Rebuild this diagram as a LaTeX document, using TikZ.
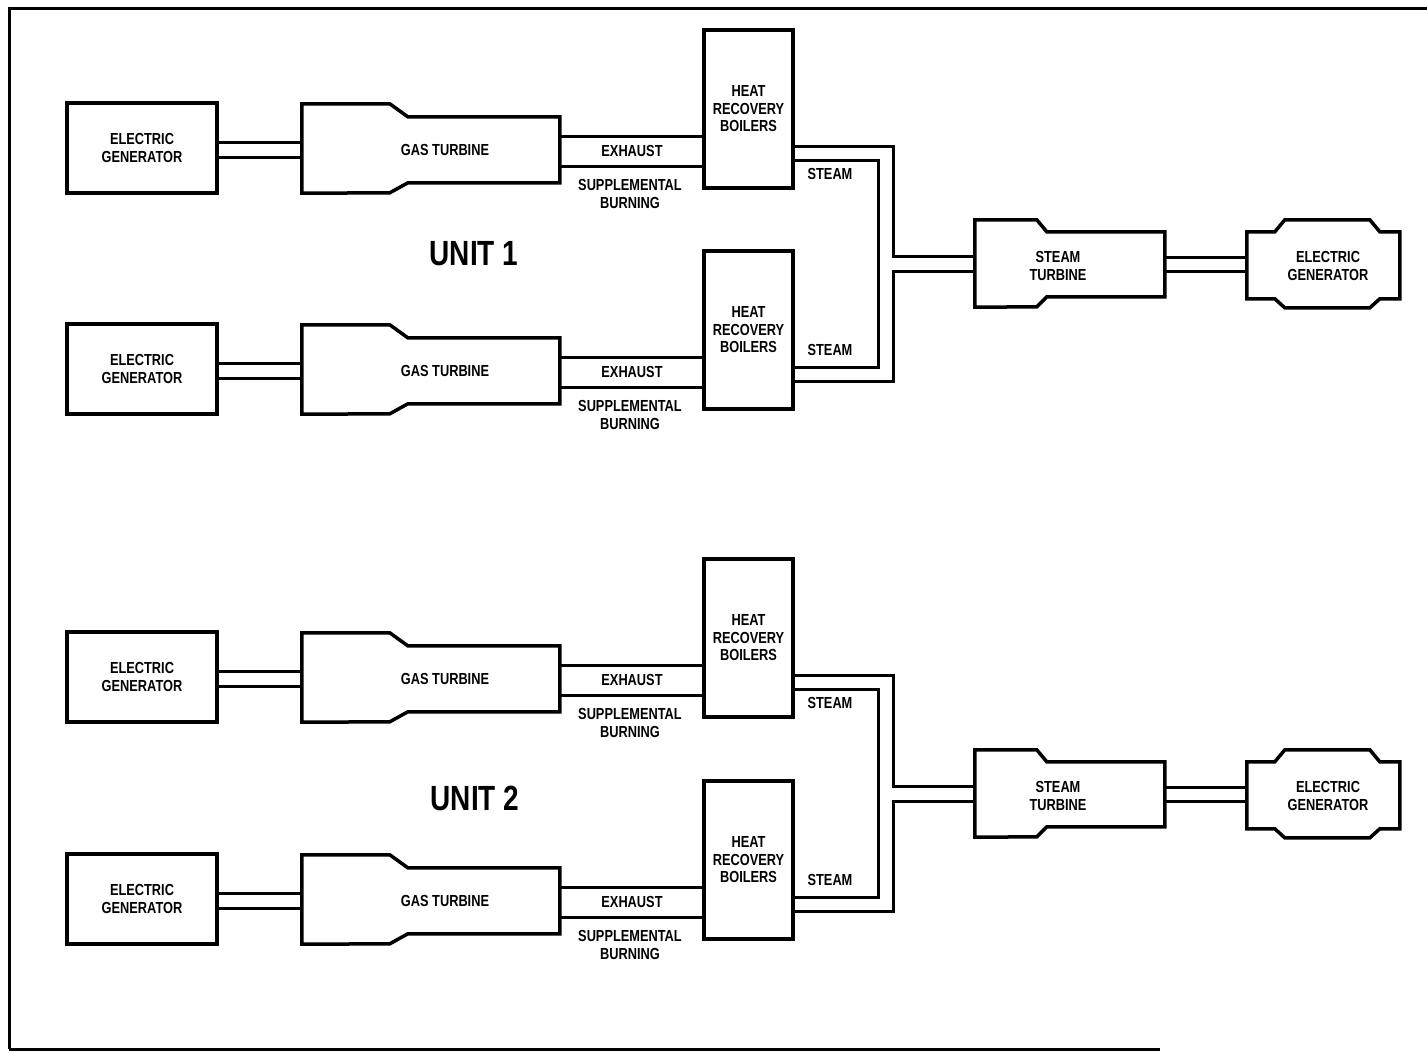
\documentclass[tikz,border=0pt]{standalone}
\usepackage{fontspec}
\newfontfamily\plantfont{Liberation Sans}[FakeStretch=0.8]
\newcommand{\tagfont}{\plantfont\bfseries\fontsize{16}{17.5}\selectfont}
\newcommand{\unitfont}{\plantfont\bfseries\fontsize{35}{40}\selectfont}

\begin{document}
\begin{tikzpicture}[x=1pt, y=-1pt,
        gen/.style={draw, line width=3.5pt, minimum width=150, minimum height=90,
                    align=center, font=\tagfont},
        hrb/.style={draw, line width=3.5pt, minimum width=89, minimum height=158,
                    align=center, font=\tagfont},
        gturb/.style={minimum width=258, minimum height=89, inner sep=0pt},
        sturb/.style={minimum width=190, minimum height=87, inner sep=0pt},
        egen/.style={minimum width=153, minimum height=88, inner sep=0pt},
        tag/.style={align=center, font=\tagfont, inner sep=0pt},
        outline/.style={line width=3.5pt, line join=miter},
        pipe/.style={line width=3pt}]
      \useasboundingbox (0,0) rectangle (1427,1053);
      \draw[line width=3pt] (9,1049) -- (9,8) -- (1427,8);
      \draw[line width=3pt] (9,1049) -- (1160,1049);
      \node[font=\unitfont] (u1) at (474,254) {UNIT 1};
      \node[font=\unitfont] (u2) at (475,798) {UNIT 2};
      \foreach \r/\c/\s in {1/148/26, 2/369/-19, 3/677/26, 4/899/-19} {
        \node[gen] (eg\r) at (142,\c) {ELECTRIC\\GENERATOR};
        \node[gturb] (gt\r) at (431,\c+0.5) {};
        \draw[outline] (gt\r.north west) -- ++(88,0) -- ++(18,13) -- ++(152,0)
          -- ++(0,66) -- ++(-152,0) -- ++(-18,10) -- (gt\r.south west) -- cycle;
        \node[tag] (gtl\r) at (445,\c+2) {GAS TURBINE};
        \node[hrb] (hrb\r) at (748.5,\c-39) {HEAT\\RECOVERY\\BOILERS};
        \node[tag] (ex\r) at (632,\c+3) {EXHAUST};
        \node[tag] (sb\r) at (630,\c+46) {SUPPLEMENTAL\\BURNING};
        \node[tag] (sl\r) at (830,\c+\s) {STEAM};
        \draw[pipe] ([yshift=6]eg\r.east) -- ([yshift=6]eg\r.east -| gt\r.west);
        \draw[pipe] ([yshift=-9]eg\r.east) -- ([yshift=-9]eg\r.east -| gt\r.west);
        \draw[pipe] ([yshift=12]gt\r.east) -- ([yshift=12]gt\r.east -| hrb\r.west);
        \draw[pipe] ([yshift=-18]gt\r.east) -- ([yshift=-18]gt\r.east -| hrb\r.west);
      }
      \foreach \u/\m/\a/\b in {1/263.5/1/2, 2/793.5/3/4} {
        \node[sturb] (st\u) at (1070,\m) {};
        \draw[outline] (st\u.north west) -- ++(62,0) -- ++(10,12) -- ++(118,0)
          -- ++(0,65) -- ++(-118,0) -- ++(-10,10) -- (st\u.south west) -- cycle;
        \node[tag] (stl\u) at (1058,\m+2.5) {STEAM\\TURBINE};
        \node[egen] (gr\u) at (1323.5,\m+0.5) {};
        \draw[outline] ([yshift=-12]gr\u.north west) -- ++(28,0) -- ++(10,-12) -- ++(85,0)
          -- ++(10,12) -- ++(20,0) -- ++(0,67) -- ++(-20,0) -- ++(-10,9) -- ++(-85,0)
          -- ++(-10,-9) -- ++(-28,0) -- cycle;
        \node[tag] (grl\u) at (1328,\m+2.5) {ELECTRIC\\GENERATOR};
        \draw[pipe] ([yshift=6.5]st\u.east) -- ([yshift=6.5]st\u.east -| gr\u.west);
        \draw[pipe] ([yshift=-7.5]st\u.east) -- ([yshift=-7.5]st\u.east -| gr\u.west);
        \draw[pipe] ([yshift=-37]hrb\a.east) -- ++(99,0) |- ([yshift=7.5]st\u.west);
        \draw[pipe] ([yshift=-51]hrb\a.east) -- ++(84,0) |- ([yshift=-37]hrb\b.east);
        \draw[pipe] ([yshift=-51]hrb\b.east) -- ++(99,0) |- ([yshift=-7.5]st\u.west);
      }
    \end{tikzpicture}
\end{document}
